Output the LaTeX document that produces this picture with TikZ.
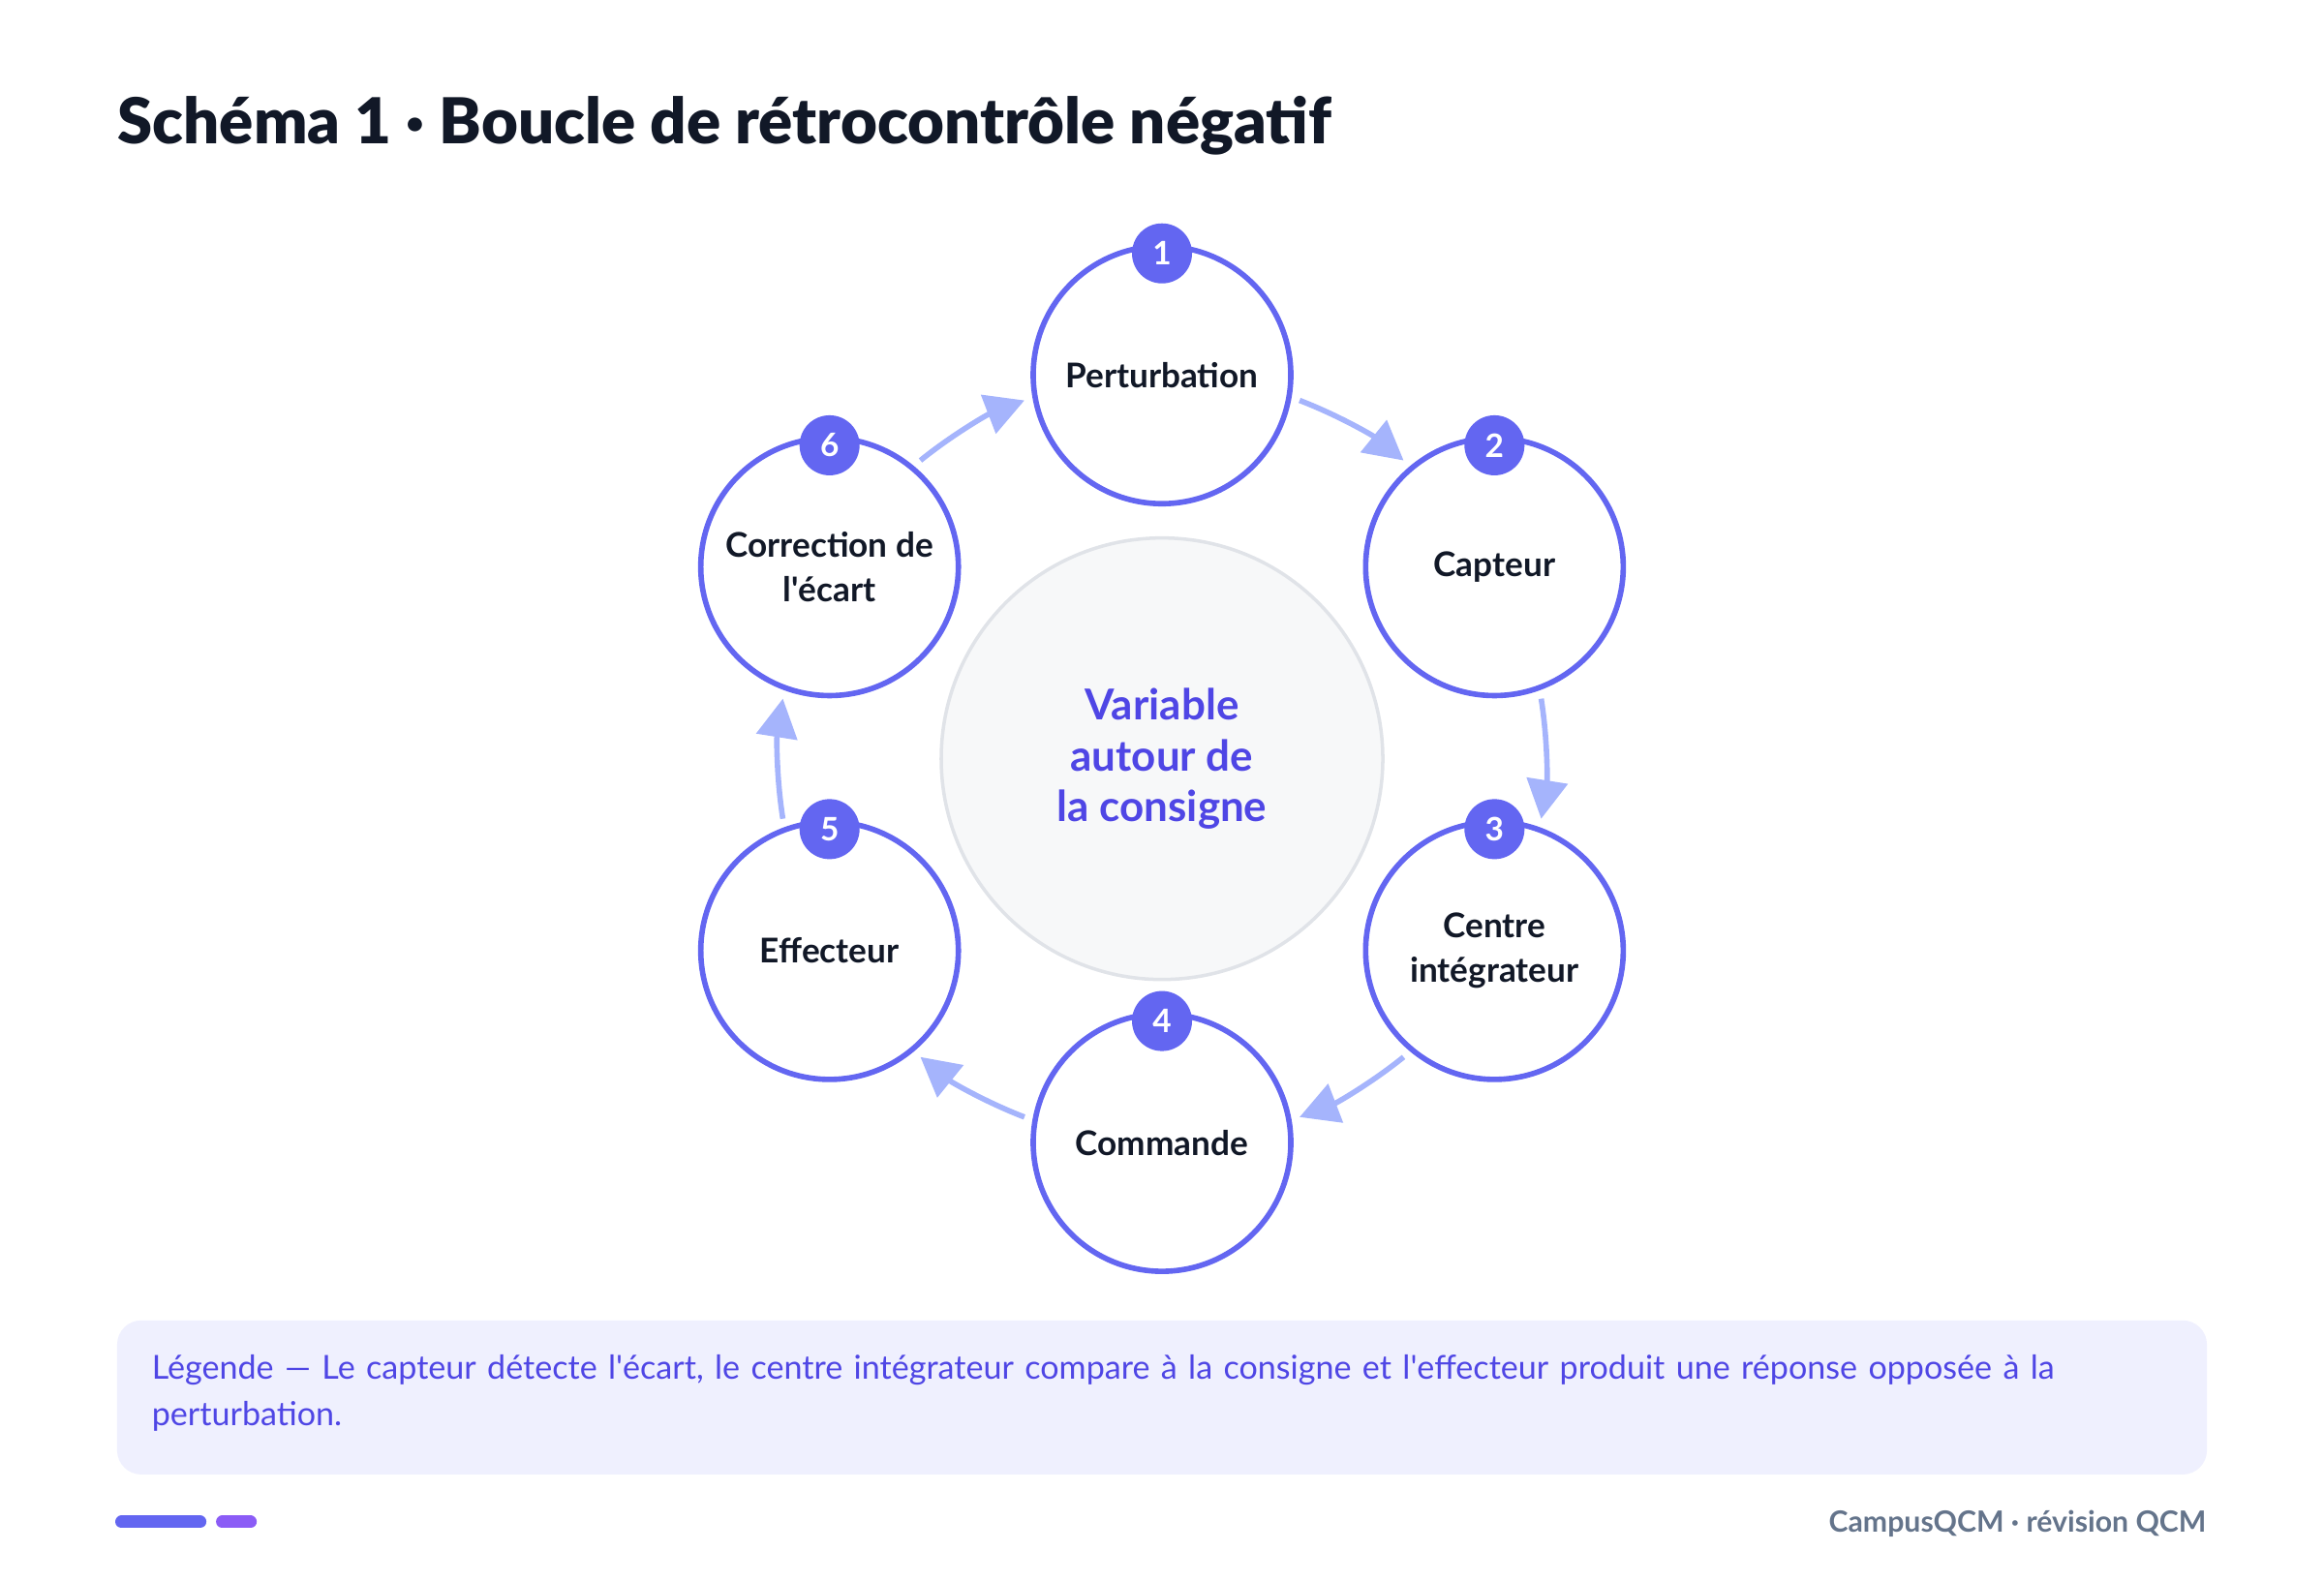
\documentclass[tikz,border=0pt]{standalone}
\usepackage{fontspec}
\setmainfont{Lato}[BoldFont={Lato Bold}]
\newfontfamily\heavy{Lato Black}
\usetikzlibrary{arrows.meta,positioning,calc}
\definecolor{ink}{HTML}{111827}
\definecolor{indigo}{HTML}{6366F1}
\definecolor{deep}{HTML}{4F46E5}
\definecolor{pale}{HTML}{A5B4FC}
\definecolor{slate}{HTML}{64748B}
\definecolor{grape}{HTML}{8B5CF6}
\newcommand{\ap}{\textquotesingle}
\tikzset{
  stage/.style={circle,draw=indigo,line width=1.6pt,fill=white,minimum size=2.66cm,
    align=center,font=\fontsize{10}{13}\selectfont\bfseries,text=ink},
  badge/.style={circle,fill=indigo,minimum size=0.62cm,inner sep=0pt,
    text=white,font=\fontsize{9.5}{10}\selectfont\bfseries},
  flow/.style={pale,line width=1.6pt,-{Triangle[length=0.4cm,width=0.42cm]}},
}
\begin{document}
\begin{tikzpicture}[x=0.01531cm,y=0.01531cm]
  \useasboundingbox (0,0) rectangle (1568,-1067);
  \node[anchor=base west,inner sep=0pt,text=ink,font=\fontsize{18.6}{21}\selectfont\heavy] (title) at (79,-97)
    {Schéma 1 · Boucle de rétrocontrôle négatif};

  \node[circle,draw=slate!20,line width=1pt,fill=slate!5,minimum size=4.56cm,align=center,
    text=deep,font=\fontsize{12.5}{15}\selectfont\bfseries] (c) at (784,-512)
    {Variable\\autour de\\la consigne};

  % ring of stages
  \foreach \i/\a/\t in {1/90/Perturbation,2/30/Capteur,3/-30/Centre\\intégrateur,
      4/-90/Commande,5/-150/Effecteur,6/150/Correction de\\l\ap écart}{
    \node[stage] (n\i) at ($(c.center)+(\a:259)$) {\t};
    \node[badge] (b\i) at ($(n\i.center)+(0,82)$) {\i};
  }
  % arrows between stages
  \foreach \m in {60,0,-60,-120,180,120}{
    \draw[flow] ($(c.center)+(\m+9:259)$) arc[start angle=\m+9,end angle=\m-9,radius=3.965cm];
  }

  % legend
  \fill[indigo!10,rounded corners=0.25cm] (79,-891) rectangle (1489,-995);
  \node[anchor=north west,inner sep=0pt,text width=19.8cm,align=left,text=deep,
    font=\fontsize{9.7}{13.5}\selectfont] (leg) at (102,-914)
    {Légende — Le capteur détecte l\ap écart, le centre intégrateur compare à la consigne et l\ap effecteur produit une réponse opposée à la perturbation.};

  % footer
  \draw[indigo,line width=0.13cm,line cap=round] (82,-1027) -- (135,-1027);
  \draw[grape,line width=0.13cm,line cap=round] (150,-1027) -- (169,-1027);
  \node[anchor=east,inner sep=0pt,text=slate,font=\fontsize{8.6}{11}\selectfont\bfseries] (foot) at (1489,-1028)
    {CampusQCM · révision QCM};
\end{tikzpicture}
\end{document}
